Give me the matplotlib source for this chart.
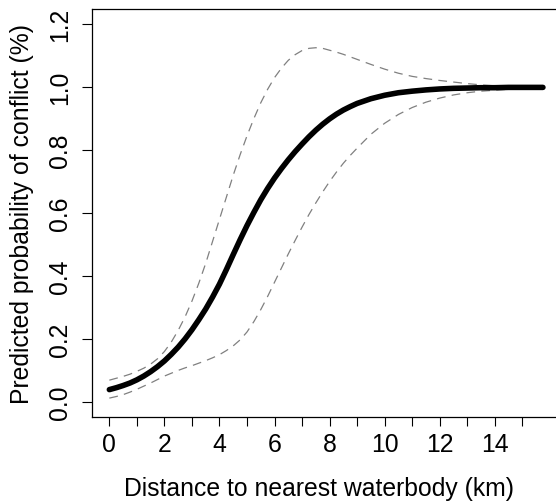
import numpy as np
import matplotlib as mp
import matplotlib.pyplot as pp

mp.rcParams.update({
    'font.family': ['Liberation Sans', 'DejaVu Sans'],
    'font.size': 17.8,
    'xtick.direction': 'out',
    'ytick.direction': 'out',
    'xtick.major.size': 6.8,
    'ytick.major.size': 7.5,
    'xtick.major.width': 0.8,
    'ytick.major.width': 0.8,
    'axes.linewidth': 0.9,
})

# distance to nearest waterbody (km)
dist = [0, 0.25, 0.5, 0.75, 1, 1.25, 1.5, 1.75, 2, 2.25, 2.5, 2.75,
        3, 3.25, 3.5, 3.75, 4, 4.25, 4.5, 4.75, 5, 5.25, 5.5, 5.75,
        6, 6.25, 6.5, 6.75, 7, 7.25, 7.5, 7.75, 8, 8.25, 8.5, 8.75,
        9, 9.5, 10, 10.5, 11, 11.5, 12, 12.5, 13, 13.5, 14, 14.5,
        15, 15.5, 15.75]

# fitted probability
p_fit = [0.039, 0.045, 0.052, 0.060, 0.070, 0.082, 0.096, 0.112, 0.130,
         0.151, 0.174, 0.200, 0.229, 0.261, 0.295, 0.333, 0.374, 0.420,
         0.468, 0.515, 0.560, 0.602, 0.642, 0.678, 0.711, 0.741, 0.769,
         0.795, 0.819, 0.842, 0.863, 0.882, 0.899, 0.914, 0.927, 0.938,
         0.948, 0.963, 0.974, 0.982, 0.987, 0.991, 0.994, 0.996, 0.997,
         0.998, 0.998, 0.999, 0.999, 0.999, 0.999]

# upper / lower confidence band
p_upper = [0.069, 0.075, 0.081, 0.088, 0.097, 0.107, 0.120, 0.137, 0.160,
           0.190, 0.227, 0.270, 0.320, 0.377, 0.440, 0.510, 0.580, 0.650,
           0.720, 0.785, 0.845, 0.900, 0.950, 0.993, 1.030, 1.060, 1.085,
           1.103, 1.116, 1.123, 1.125, 1.123, 1.117, 1.111, 1.104, 1.096,
           1.088, 1.072, 1.057, 1.044, 1.034, 1.027, 1.021, 1.016, 1.011,
           1.007, 1.004, 1.002, 1.000, 0.999, 0.998]

p_lower = [0.012, 0.017, 0.023, 0.031, 0.040, 0.050, 0.060, 0.071, 0.082,
           0.091, 0.100, 0.108, 0.115, 0.123, 0.131, 0.140, 0.150, 0.163,
           0.178, 0.197, 0.222, 0.255, 0.293, 0.335, 0.380, 0.425, 0.470,
           0.513, 0.555, 0.595, 0.632, 0.667, 0.700, 0.730, 0.758, 0.783,
           0.806, 0.850, 0.885, 0.913, 0.935, 0.952, 0.965, 0.975, 0.982,
           0.987, 0.990, 0.993, 0.995, 0.996, 0.997]

xticks = np.arange(0, 16, 1)
xlabels = [str(t) if t % 2 == 0 else '' for t in xticks]
yticks = [0.0, 0.2, 0.4, 0.6, 0.8, 1.0, 1.2]

fig = pp.figure(figsize=(5.56, 5.02), dpi=100)
ax = fig.add_axes([92/556, 84/502, 468/556, 408/502])

ax.plot(dist, p_upper, color='0.5', lw=0.9, dashes=(7, 5))
ax.plot(dist, p_lower, color='0.5', lw=0.9, dashes=(7, 5))
ax.plot(dist, p_fit, color='k', lw=4, solid_capstyle='round',
        solid_joinstyle='round')

ax.set_xlim(-0.63, 16.37)
ax.set_ylim(-0.048, 1.248)
ax.set_xticks(xticks)
ax.set_xticklabels(xlabels)
ax.set_yticks(yticks)
ax.set_yticklabels(['%.1f' % t for t in yticks], rotation=90, va='center')
ax.tick_params(axis='x', pad=4)
ax.tick_params(axis='y', pad=7)

ax.set_xlabel('Distance to nearest waterbody (km)', labelpad=12)
ax.xaxis.set_label_coords(0.486, -0.145)
ax.set_ylabel('Predicted probability of conflict (%)', labelpad=10)

fig.savefig('out.png', dpi=100)
